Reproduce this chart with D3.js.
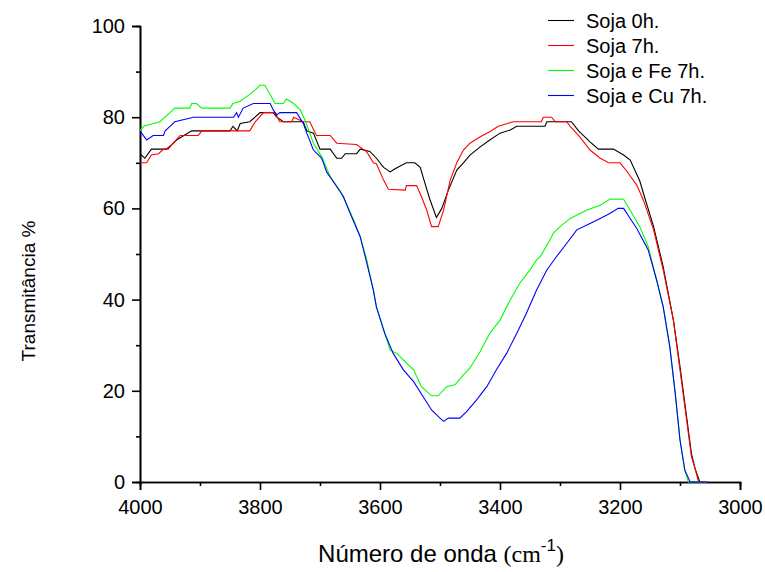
<!DOCTYPE html>
<html>
<head>
<meta charset="utf-8">
<script src="https://cdn.jsdelivr.net/npm/d3@7"></script>
<style>
  body { margin: 0; background: #fff; }
  text { font-family: Arial, "Liberation Sans", sans-serif; fill: #000; }
</style>
</head>
<body>
<div id="chart"></div>
<script>
// [wavenumber, transmittance]
var soja0h = [[4000,72],[3992,71],[3981,73],[3956,73],[3947,74],[3939,75],[3914,77],[3900,77],[3850,77],[3845,78],[3838,77],[3833,78.6],[3817,79],[3800,81],[3778,81],[3772,80],[3761,79],[3728,79],[3722,77],[3711,76.5],[3700,73],[3683,73],[3672,71],[3664,71],[3658,72],[3639,72],[3633,73],[3617,72.5],[3606,71],[3594,69],[3583,68],[3575,68.7],[3556,70],[3542,70],[3533,69],[3525,65.5],[3517,62],[3506,58],[3497,60],[3486,64],[3472,68.4],[3461,70],[3450,71.7],[3433,73.5],[3417,75],[3400,76.5],[3383,77.2],[3372,78],[3325,78],[3322,79],[3281,79],[3269,77],[3250,74.6],[3236,73],[3211,73],[3194,71.7],[3183,70.6],[3167,66],[3158,62],[3144,56],[3128,47.2],[3111,35.5],[3100,25.3],[3089,14.3],[3081,6.3],[3075,3],[3067,0],[3055,0]];
var soja7h = [[4000,70],[3989,70],[3981,71.7],[3969,72],[3961,73],[3953,73],[3947,74],[3933,76],[3903,76],[3897,77],[3817,77],[3808,79],[3794,81],[3775,81],[3767,79],[3747,79],[3744,80],[3728,79],[3717,79],[3706,76],[3683,76],[3672,74.3],[3639,74],[3622,72.4],[3611,70],[3606,69.8],[3594,66.2],[3586,64.2],[3558,64],[3556,65],[3539,65],[3531,62.6],[3522,59.6],[3514,56],[3503,56],[3494,59.6],[3483,66.2],[3472,70],[3461,72.8],[3450,74.3],[3433,75.7],[3417,76.8],[3403,78],[3378,79],[3331,79],[3328,80],[3314,80],[3308,79],[3289,79],[3283,78],[3267,75.7],[3250,72.8],[3233,71],[3219,70],[3200,70],[3189,68.2],[3172,65.1],[3161,61.8],[3144,55.3],[3128,46.5],[3111,35.5],[3100,24.6],[3089,13.6],[3081,5.6],[3075,3],[3069,0],[3055,0]];
var sojaFe7h = [[4000,77],[3994,78],[3967,79],[3950,81],[3942,82],[3917,82],[3914,83],[3906,83],[3897,82],[3850,82],[3845,83],[3833,83.5],[3817,85],[3808,86],[3800,87],[3792,87],[3781,84.5],[3775,83],[3761,83],[3756,84],[3744,83],[3733,81.6],[3725,79.4],[3711,74.3],[3697,71.3],[3683,67],[3667,64],[3656,61],[3644,57.5],[3633,53.8],[3622,48.7],[3611,42],[3606,38.4],[3594,33.3],[3583,28.9],[3572,28.2],[3561,26.8],[3544,24.6],[3531,20.9],[3514,18.9],[3503,18.9],[3489,20.9],[3475,21.3],[3461,23.5],[3450,25],[3433,28.6],[3417,32.6],[3400,35.5],[3383,39.9],[3367,43.6],[3350,46.5],[3339,48.7],[3333,49.4],[3317,53],[3311,54.6],[3300,56],[3283,57.8],[3256,59.6],[3233,60.7],[3217,62],[3194,62],[3183,59.6],[3167,56],[3153,51.6],[3139,44.3],[3128,38.4],[3117,29.7],[3108,19.5],[3100,9.2],[3092,2.6],[3086,0],[3055,0]];
var sojaCu7h = [[4000,77],[3989,75],[3978,76],[3961,76],[3958,77],[3950,78],[3942,79],[3911,80],[3844,80],[3839,81],[3836,80],[3828,82],[3811,83],[3783,83],[3778,81.6],[3772,80.5],[3767,81],[3739,81],[3728,78.7],[3722,76.5],[3711,72.8],[3697,71],[3689,68],[3678,65.9],[3661,62.6],[3650,59],[3633,53.8],[3622,48],[3611,42],[3606,38.4],[3592,32.6],[3578,28.2],[3561,24.6],[3544,22],[3528,18.7],[3514,15.8],[3500,14],[3494,13.3],[3486,14],[3467,14],[3456,15.4],[3439,18],[3422,20.9],[3406,24.6],[3389,28.2],[3372,32.6],[3356,37],[3339,42.1],[3322,46.5],[3306,49.4],[3289,52.3],[3272,55.3],[3250,56.7],[3233,57.8],[3217,58.9],[3203,60],[3194,60],[3183,57.8],[3172,55.6],[3153,50.9],[3139,44.3],[3128,38.4],[3117,29.7],[3108,19.5],[3100,9.2],[3092,2.6],[3083,0],[3055,0]];

var seriesNames = ["Soja 0h.", "Soja 7h.", "Soja e Fe 7h.", "Soja e Cu 7h."];
var seriesColors = ["#000000", "#ff0000", "#00ff00", "#0000ff"];
var seriesData = [soja0h, soja7h, sojaFe7h, sojaCu7h];

var xTicks = [4000, 3800, 3600, 3400, 3200, 3000];
var yTicks = [0, 20, 40, 60, 80, 100];

var svgWidth = 765;
var svgHeight = 572;
var margin = { top: 26, right: 25, bottom: 90, left: 140 };
var width = svgWidth - margin.left - margin.right;
var height = svgHeight - margin.top - margin.bottom;

var svg = d3.select('#chart')
    .append('svg')
    .attr('width', svgWidth)
    .attr('height', svgHeight);

var chartGroup = svg.append('g')
    .attr('transform', `translate(${margin.left}, ${margin.top})`);

var xScale = d3.scaleLinear().domain([4000, 3000]).range([0, width]);
var yScale = d3.scaleLinear().domain([0, 100]).range([height, 0]);

// minor ticks first
var xMinor = d3.axisBottom(xScale).tickValues(d3.range(3900, 3000, -200)).tickSize(4).tickFormat('');
var yMinor = d3.axisLeft(yScale).tickValues(d3.range(10, 100, 20)).tickSize(4).tickFormat('');

chartGroup.append('g').attr('transform', `translate(0, ${height})`).call(xMinor);
chartGroup.append('g').call(yMinor);

var bottomAxis = d3.axisBottom(xScale).tickValues(xTicks).tickSize(8).tickPadding(4).tickFormat(d3.format('d'));
var leftAxis = d3.axisLeft(yScale).tickValues(yTicks).tickSize(8).tickPadding(7).tickFormat(d3.format('d'));

var xAxisG = chartGroup.append('g')
    .attr('transform', `translate(0, ${height})`)
    .call(bottomAxis);
var yAxisG = chartGroup.append('g').call(leftAxis);

chartGroup.selectAll('.domain').attr('stroke', '#000').attr('stroke-width', 1.6);
chartGroup.selectAll('.tick line').attr('stroke', '#000').attr('stroke-width', 1.6);
chartGroup.selectAll('.tick text').attr('font-size', '20px').attr('font-family', 'Arial, "Liberation Sans", sans-serif').attr('fill', '#000');
xAxisG.selectAll('.tick text').attr('dy', '1em');

var line = d3.line()
    .x(d => xScale(d[0]))
    .y(d => yScale(d[1]));

seriesData.forEach(function(data, i) {
    chartGroup.append('path')
        .datum(data)
        .attr('d', line)
        .attr('fill', 'none')
        .attr('stroke', seriesColors[i])
        .attr('stroke-width', 1.1);
});

// legend
var legend = svg.append('g').attr('transform', 'translate(548, 20.5)');
seriesNames.forEach(function(name, i) {
    var g = legend.append('g').attr('transform', `translate(0, ${i * 25})`);
    g.append('line')
        .attr('x1', 0).attr('x2', 26).attr('y1', 0).attr('y2', 0)
        .attr('stroke', seriesColors[i]).attr('stroke-width', 1.1);
    g.append('text')
        .attr('x', 38).attr('y', 7)
        .attr('font-size', '20px')
        .text(name);
});

// axis titles
svg.append('text')
    .attr('transform', 'rotate(-90)')
    .attr('x', -291)
    .attr('y', 35)
    .attr('text-anchor', 'middle')
    .attr('font-size', '19px')
    .text('Transmitância %');

var xTitle = svg.append('text')
    .attr('x', 441)
    .attr('y', 562)
    .attr('text-anchor', 'middle')
    .attr('font-size', '24px');
xTitle.append('tspan').text('Número de onda ');
xTitle.append('tspan').attr('font-family', '"Liberation Serif", "Times New Roman", serif').text('(cm');
xTitle.append('tspan').attr('font-size', '17px').attr('dy', '-11').text('-1');
xTitle.append('tspan').attr('font-family', '"Liberation Serif", "Times New Roman", serif').attr('dy', '11').text(')');
</script>
</body>
</html>
